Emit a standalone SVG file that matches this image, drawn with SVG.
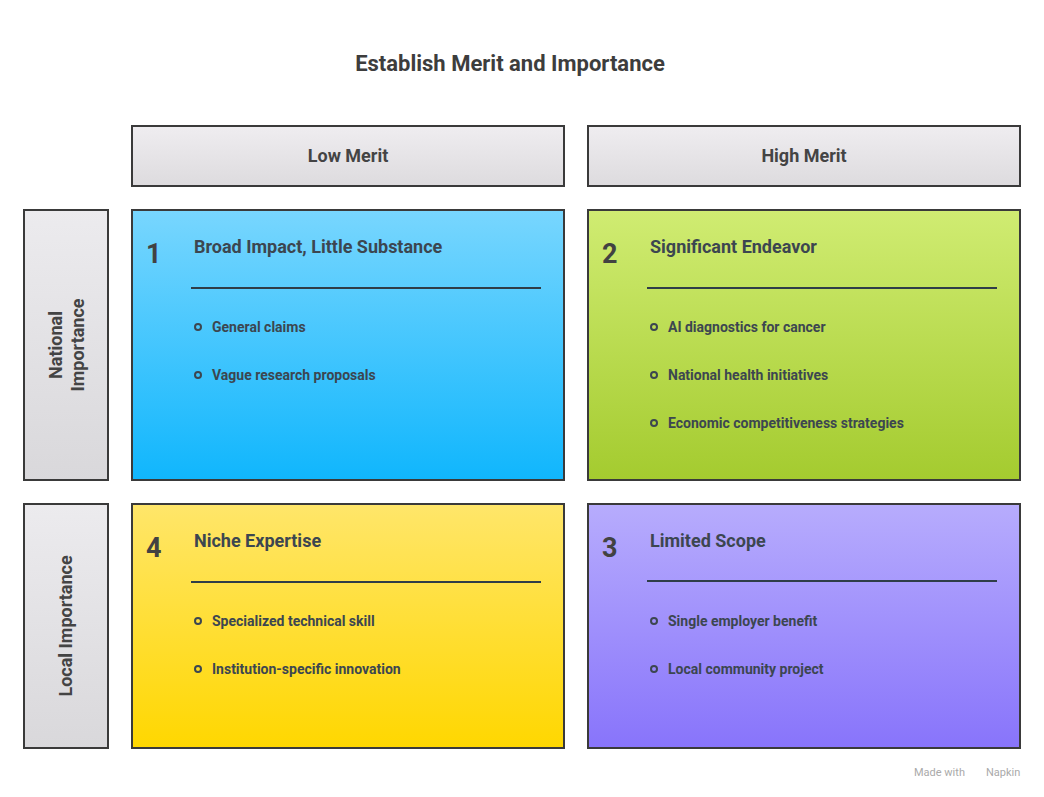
<svg xmlns="http://www.w3.org/2000/svg" width="1044" height="797" viewBox="0 0 1044 797">
<defs>
<linearGradient id="gh" x1="0" y1="0" x2="0" y2="1"><stop offset="0" stop-color="#efedf0"/><stop offset="1" stop-color="#dddbde"/></linearGradient>
<linearGradient id="gs" x1="0" y1="0" x2="0" y2="1"><stop offset="0" stop-color="#ecebee"/><stop offset="1" stop-color="#d9d8db"/></linearGradient>
<linearGradient id="g1" x1="0" y1="0" x2="0" y2="1"><stop offset="0" stop-color="#78d6fe"/><stop offset="1" stop-color="#10b6fd"/></linearGradient>
<linearGradient id="g2" x1="0" y1="0" x2="0" y2="1"><stop offset="0" stop-color="#d0ec72"/><stop offset="1" stop-color="#a4cb2f"/></linearGradient>
<linearGradient id="g4" x1="0" y1="0" x2="0" y2="1"><stop offset="0" stop-color="#ffe66a"/><stop offset="1" stop-color="#ffd700"/></linearGradient>
<linearGradient id="g3" x1="0" y1="0" x2="0" y2="1"><stop offset="0" stop-color="#b7acfd"/><stop offset="1" stop-color="#8874fb"/></linearGradient>
</defs>
<style>
text{font-family:Roboto,"Liberation Sans",sans-serif;font-weight:bold;fill:#3c4650}
.box{stroke:#3a3a3a;stroke-width:2}
.hd{font-size:18px;fill:#444;text-anchor:middle}
.num{font-size:27px;fill:#424242}
.tt{font-size:18px}
.it{font-size:14px}
.ln{stroke:#2f3d48;stroke-width:2}
.dot{fill:none;stroke:#3c4650;stroke-width:2}
</style>
<text x="510" y="71" text-anchor="middle" style="font-size:22px;fill:#3d3d3d">Establish Merit and Importance</text>
<g id="low-merit"><rect class="box" x="132" y="126" width="432" height="60" fill="url(#gh)"/><text class="hd" x="348" y="162">Low Merit</text></g>
<g id="high-merit"><rect class="box" x="588" y="126" width="432" height="60" fill="url(#gh)"/><text class="hd" x="804" y="162">High Merit</text></g>
<g id="national"><rect class="box" x="24" y="210" width="84" height="270" fill="url(#gs)"/><text class="hd" transform="translate(66 345) rotate(-90)"><tspan x="0" y="-4">National</tspan><tspan x="0" y="18">Importance</tspan></text></g>
<g id="local"><rect class="box" x="24" y="504" width="84" height="244" fill="url(#gs)"/><text class="hd" transform="translate(72 626) rotate(-90)">Local Importance</text></g>
<g id="q1"><rect class="box" x="132" y="210" width="432" height="270" fill="url(#g1)"/>
<text class="num" x="146" y="263">1</text><text class="tt" x="194" y="253">Broad Impact, Little Substance</text>
<line class="ln" x1="191" y1="288" x2="541" y2="288"/>
<circle class="dot" cx="198" cy="327" r="3"/><text class="it" x="212" y="332">General claims</text>
<circle class="dot" cx="198" cy="375" r="3"/><text class="it" x="212" y="380">Vague research proposals</text></g>
<g id="q2"><rect class="box" x="588" y="210" width="432" height="270" fill="url(#g2)"/>
<text class="num" x="602" y="263">2</text><text class="tt" x="650" y="253">Significant Endeavor</text>
<line class="ln" x1="647" y1="288" x2="997" y2="288"/>
<circle class="dot" cx="654" cy="327" r="3"/><text class="it" x="668" y="332">AI diagnostics for cancer</text>
<circle class="dot" cx="654" cy="375" r="3"/><text class="it" x="668" y="380">National health initiatives</text>
<circle class="dot" cx="654" cy="423" r="3"/><text class="it" x="668" y="428">Economic competitiveness strategies</text></g>
<g id="q4"><rect class="box" x="132" y="504" width="432" height="244" fill="url(#g4)"/>
<text class="num" x="146" y="557">4</text><text class="tt" x="194" y="547">Niche Expertise</text>
<line class="ln" x1="191" y1="582" x2="541" y2="582"/>
<circle class="dot" cx="198" cy="621" r="3"/><text class="it" x="212" y="626">Specialized technical skill</text>
<circle class="dot" cx="198" cy="669" r="3"/><text class="it" x="212" y="674">Institution-specific innovation</text></g>
<g id="q3"><rect class="box" x="588" y="504" width="432" height="244" fill="url(#g3)"/>
<text class="num" x="602" y="557">3</text><text class="tt" x="650" y="547">Limited Scope</text>
<line class="ln" x1="647" y1="581" x2="997" y2="581"/>
<circle class="dot" cx="654" cy="621" r="3"/><text class="it" x="668" y="626">Single employer benefit</text>
<circle class="dot" cx="654" cy="669" r="3"/><text class="it" x="668" y="674">Local community project</text></g>
<g id="connectors"/>
<text x="914" y="776" style="font-size:11px;font-weight:normal;fill:#aaa">Made with</text>
<text x="986" y="776" style="font-size:11px;font-weight:normal;fill:#aaa">Napkin</text>
</svg>
